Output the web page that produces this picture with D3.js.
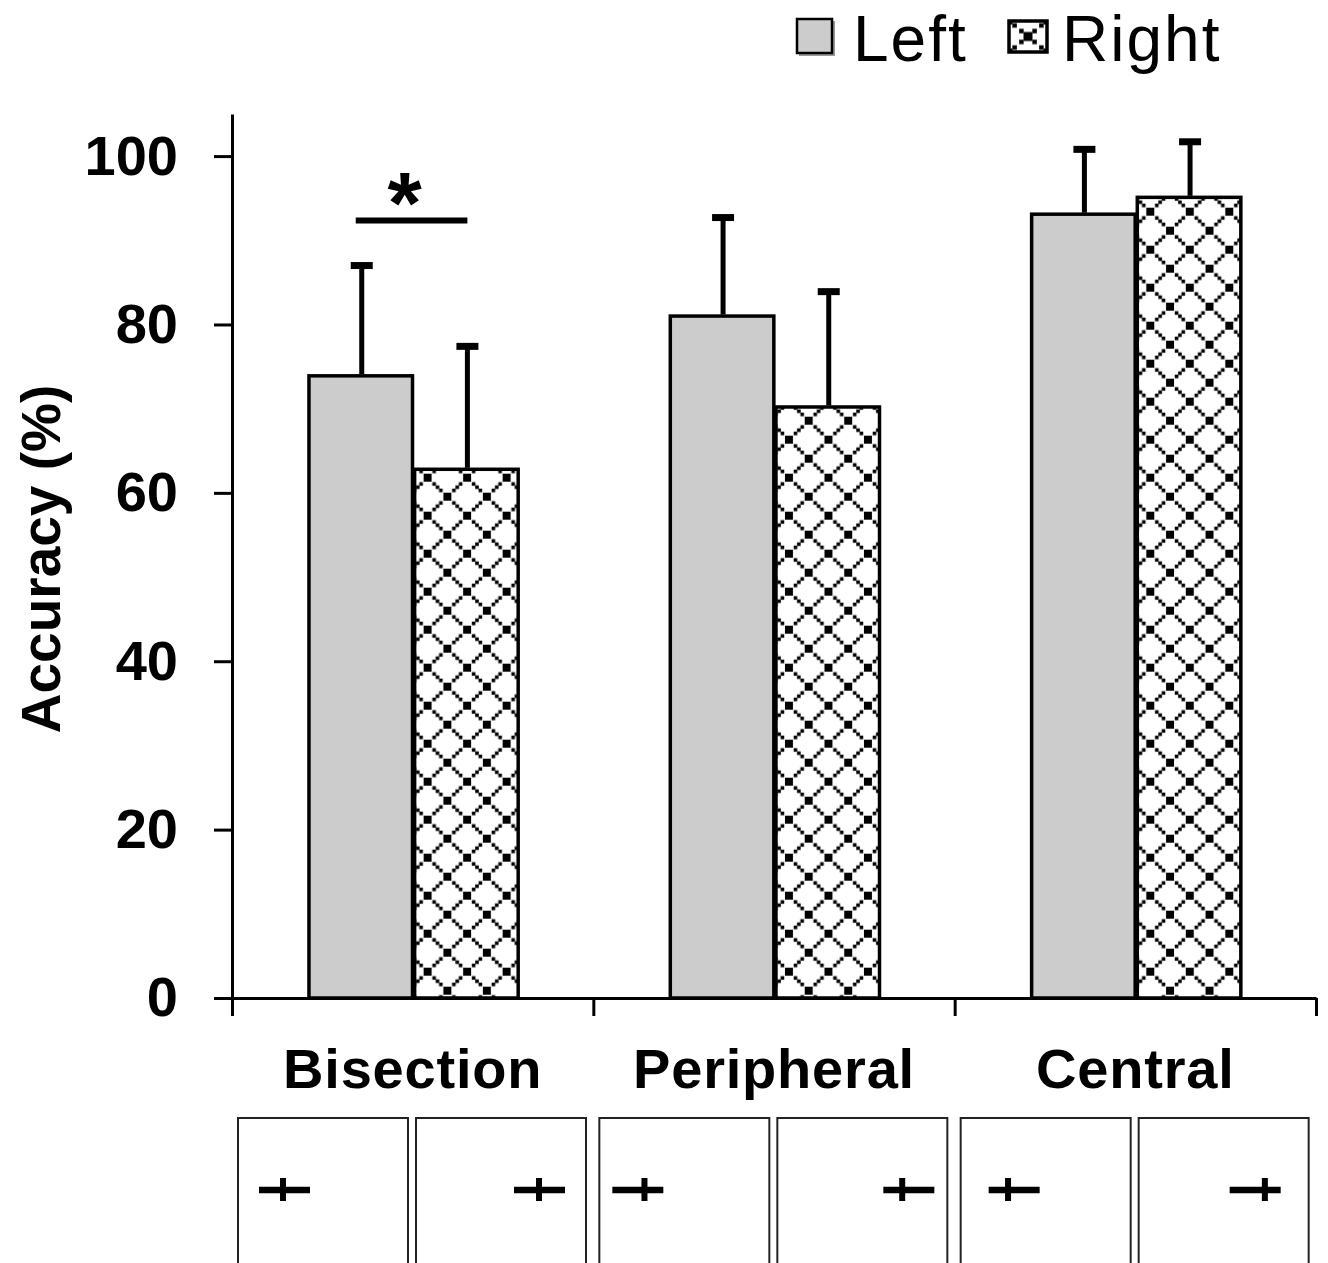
<!DOCTYPE html>
<html>
<head>
<meta charset="utf-8">
<script src="https://cdn.jsdelivr.net/npm/d3@7"></script>
<style>
  body { margin: 0; background: #fff; }
  text { font-family: "Liberation Sans", Arial, sans-serif; }
</style>
</head>
<body>
<div id="chart"></div>
<script>
// data
const categories = ["Bisection", "Peripheral", "Central"];
const series = ["Left", "Right"];
const leftMeans = [73.9, 81.0, 93.1];
const rightMeans = [62.8, 70.2, 95.1];
const leftErr = [13.1, 11.7, 7.7];
const rightErr = [14.6, 13.7, 6.6];
const yTicks = [0, 20, 40, 60, 80, 100];
// where the short vertical mark sits along the stimulus line (0 = left end, 1 = right end)
const markLeft = [0.47, 0.63, 0.38];
const markRight = [0.49, 0.37, 0.69];
const significant = ["Bisection"];

const width = 1328;
const height = 1263;

const svg = d3.select("#chart")
    .append("svg")
    .attr("width", width)
    .attr("height", height);

const defs = svg.append("defs");

const x0 = d3.scaleBand().domain(categories).range([232, 1316]);
const bw = x0.bandwidth();
const x1 = d3.scaleBand().domain(series).range([bw * 0.213, bw * 0.792]).paddingInner(0.02);
const y = d3.scaleLinear().domain([0, 105]).range([998, 114]);

const rows = [];
categories.forEach((c, i) => {
    rows.push({ cat: c, ser: "Left", i: i, mean: leftMeans[i], err: leftErr[i], mark: markLeft[i] });
    rows.push({ cat: c, ser: "Right", i: i, mean: rightMeans[i], err: rightErr[i], mark: markRight[i] });
});

// diamond dot pattern for the Right bars
function makePattern(id, px, py, w, h, big, small, steps) {
    const p = defs.append("pattern")
        .attr("id", id)
        .attr("patternUnits", "userSpaceOnUse")
        .attr("x", px).attr("y", py)
        .attr("width", w).attr("height", h);
    p.append("rect").attr("width", w).attr("height", h).attr("fill", "#fff");
    const pts = [[0, 0], [w, 0], [0, h], [w, h], [w / 2, h / 2]];
    pts.forEach(d => p.append("rect")
        .attr("x", d[0] - big / 2).attr("y", d[1] - big / 2)
        .attr("width", big).attr("height", big).attr("fill", "#000"));
    [[0, 0], [w, 0], [0, h], [w, h]].forEach(c => {
        steps.forEach(t => {
            const sx = w / 2 + (c[0] - w / 2) * t;
            const sy = h / 2 + (c[1] - h / 2) * t;
            p.append("rect")
                .attr("x", sx - small / 2).attr("y", sy - small / 2)
                .attr("width", small).attr("height", small).attr("fill", "#000");
        });
    });
}

rows.forEach((d, k) => {
    if (d.ser === "Right") {
        const bx = x0(d.cat) + x1(d.ser);
        makePattern("pat_" + k, bx + 13 - 19.75, y(0) - 26.3 - 19, 39.5, 38, 8, 3.6, [0.33, 0.5, 0.67]);
    }
});

// bars
svg.append("g")
    .selectAll("rect")
    .data(rows)
    .join("rect")
    .attr("x", d => x0(d.cat) + x1(d.ser))
    .attr("y", d => y(d.mean))
    .attr("width", x1.bandwidth())
    .attr("height", d => y(0) - y(d.mean))
    .attr("fill", (d, k) => d.ser === "Left" ? "#cccccc" : "url(#pat_" + k + ")")
    .attr("stroke", "#000")
    .attr("stroke-width", 3.5);

// error bars (upper only)
const eb = svg.append("g").selectAll("g").data(rows).join("g");
eb.append("line")
    .attr("x1", d => x0(d.cat) + x1(d.ser) + x1.bandwidth() / 2 + 1)
    .attr("x2", d => x0(d.cat) + x1(d.ser) + x1.bandwidth() / 2 + 1)
    .attr("y1", d => y(d.mean) - 1.5)
    .attr("y2", d => y(d.mean + d.err))
    .attr("stroke", "#000")
    .attr("stroke-width", 5);
eb.append("line")
    .attr("x1", d => x0(d.cat) + x1(d.ser) + x1.bandwidth() / 2 + 1 - 11)
    .attr("x2", d => x0(d.cat) + x1(d.ser) + x1.bandwidth() / 2 + 1 + 11)
    .attr("y1", d => y(d.mean + d.err))
    .attr("y2", d => y(d.mean + d.err))
    .attr("stroke", "#000")
    .attr("stroke-width", 7);

// significance marker
significant.forEach(c => {
    const i = categories.indexOf(c);
    const top = Math.max(leftMeans[i] + leftErr[i], rightMeans[i] + rightErr[i]);
    const yl = y(top) - 45;
    const xa = x0(c) + x1("Left") + x1.bandwidth() / 2 - 5;
    const xb = x0(c) + x1("Right") + x1.bandwidth() / 2 + 1;
    svg.append("line")
        .attr("x1", xa).attr("x2", xb)
        .attr("y1", yl).attr("y2", yl)
        .attr("stroke", "#000").attr("stroke-width", 6);
    svg.append("text")
        .attr("x", (xa + xb) / 2 - 7)
        .attr("y", yl + 12)
        .attr("text-anchor", "middle")
        .attr("font-size", 88)
        .attr("font-weight", "bold")
        .text("*");
});

// y axis
const yAxis = svg.append("g")
    .attr("transform", "translate(232,0)")
    .call(d3.axisLeft(y).tickValues(yTicks).tickSize(18).tickSizeOuter(0).tickPadding(36));
yAxis.select(".domain").attr("stroke", "#000").attr("stroke-width", 3);
yAxis.selectAll(".tick line").attr("stroke", "#000").attr("stroke-width", 3);
yAxis.selectAll(".tick text")
    .attr("font-family", "'Liberation Sans', Arial, sans-serif")
    .attr("font-size", 56)
    .attr("font-weight", "bold")
    .attr("fill", "#000");

svg.append("text")
    .attr("transform", "translate(60,559) rotate(-90)")
    .attr("text-anchor", "middle")
    .attr("font-size", 55)
    .attr("font-weight", "bold")
    .text("Accuracy (%)");

// x axis with ticks at the category boundaries
const xb = d3.scaleLinear().domain([0, categories.length]).range([232, 1316]);
const xAxis = svg.append("g")
    .attr("transform", "translate(0,998)")
    .call(d3.axisBottom(xb).tickValues(d3.range(categories.length + 1)).tickFormat("").tickSize(18).tickSizeOuter(0));
xAxis.select(".domain").attr("stroke", "#000").attr("stroke-width", 3);
xAxis.selectAll(".tick line").attr("stroke", "#000").attr("stroke-width", 3);

svg.append("g")
    .selectAll("text")
    .data(categories)
    .join("text")
    .attr("x", d => x0(d) + bw / 2)
    .attr("y", 1088)
    .attr("text-anchor", "middle")
    .attr("font-size", 56)
    .attr("font-weight", "bold")
    .attr("letter-spacing", 0.8)
    .text(d => d);

// stimulus boxes below each bar
const insets = [21, 13, 28];
const boxes = svg.append("g").selectAll("g").data(rows).join("g")
    .attr("transform", d => "translate(" + (x0(d.cat) + 6 + series.indexOf(d.ser) * 178) + ",1118)");
boxes.append("rect")
    .attr("width", 170)
    .attr("height", 170)
    .attr("fill", "#fff")
    .attr("stroke", "#222")
    .attr("stroke-width", 2);
const lineLen = 51;
const lineStart = d => d.ser === "Left" ? insets[d.i] : 170 - insets[d.i] - lineLen;
boxes.append("line")
    .attr("x1", d => lineStart(d))
    .attr("x2", d => lineStart(d) + lineLen)
    .attr("y1", 72).attr("y2", 72)
    .attr("stroke", "#000").attr("stroke-width", 6.5);
boxes.append("line")
    .attr("x1", d => lineStart(d) + d.mark * lineLen)
    .attr("x2", d => lineStart(d) + d.mark * lineLen)
    .attr("y1", 60).attr("y2", 83)
    .attr("stroke", "#000").attr("stroke-width", 6);

// legend
makePattern("pat_legend", 1008 - 20, 20 - 16.5, 40, 33, 9, 4.5, [0.33, 0.67]);
const legend = svg.append("g");
legend.append("rect").attr("x", 799).attr("y", 21).attr("width", 36).attr("height", 35).attr("fill", "#999");
legend.append("rect").attr("x", 797).attr("y", 19).attr("width", 35).attr("height", 34)
    .attr("fill", "#cccccc").attr("stroke", "#000").attr("stroke-width", 2.5);
legend.append("text").attr("x", 853).attr("y", 61).attr("font-size", 64).attr("letter-spacing", 2).text("Left");
legend.append("rect").attr("x", 1009).attr("y", 21).attr("width", 38).attr("height", 31)
    .attr("fill", "url(#pat_legend)").attr("stroke", "#000").attr("stroke-width", 3.5);
legend.append("text").attr("x", 1062).attr("y", 61).attr("font-size", 64).attr("letter-spacing", 2).text("Right");
</script>
</body>
</html>
